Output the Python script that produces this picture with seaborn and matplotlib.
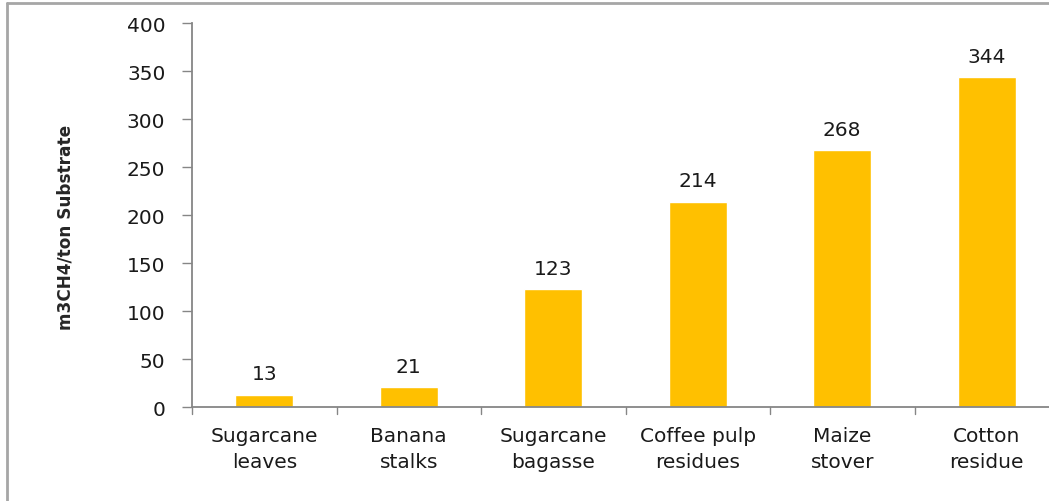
import matplotlib
matplotlib.use("Agg")
import matplotlib.pyplot as plt
from matplotlib.lines import Line2D
import seaborn as sns
import pandas as pd

categories = ["Sugarcane\nleaves", "Banana\nstalks", "Sugarcane\nbagasse",
              "Coffee pulp\nresidues", "Maize\nstover", "Cotton\nresidue"]
values = [13, 21, 123, 214, 268, 344]
y_ticks = [0, 50, 100, 150, 200, 250, 300, 350, 400]
y_label = "m3CH4/ton Substrate"

sns.set_theme(style="white")
plt.rcParams["font.family"] = ["DejaVu Sans"]

df = pd.DataFrame({"substrate": categories, "yield": values})

fig = plt.figure(figsize=(10.49, 5.02), dpi=100)
ax = fig.add_axes([192 / 1049, 1 - 408 / 502, 867 / 1049, 384 / 502])

sns.barplot(data=df, x="substrate", y="yield", color="#FFC000",
            saturation=1, width=0.40, ax=ax)

ax.set_ylim(0, 400)
ax.set_xlim(-0.5, len(categories) - 0.5)
ax.set_yticks(y_ticks)
ax.set_yticklabels([str(t) for t in y_ticks], fontsize=14.5, color="#1a1a1a")
ax.set_xticks(range(len(categories)))
ax.set_xticklabels(categories, fontsize=14.5, color="#1a1a1a", linespacing=1.45)
ax.tick_params(axis="x", length=0, pad=14)
ax.tick_params(axis="y", length=7.2, width=1.0, color="#868686",
               direction="out", left=True, pad=12)

# boundary ticks between categories
for b in [i - 0.5 for i in range(len(categories) + 1)]:
    ax.plot([b, b], [0, -7], color="#868686", lw=1.0,
            transform=ax.transData, clip_on=False)

ax.set_xlabel("")
ax.set_ylabel(y_label, fontsize=12.2, fontweight="bold")
ax.yaxis.set_label_coords(-117 / 867, 0.47)

for side in ["top", "right"]:
    ax.spines[side].set_visible(False)
for side in ["left", "bottom"]:
    ax.spines[side].set_color("#868686")
    ax.spines[side].set_linewidth(1.3)

for i, v in enumerate(values):
    ax.annotate(str(v), (i, v), xytext=(0, 8), textcoords="offset points",
                ha="center", va="bottom", fontsize=14.5, color="#1a1a1a")

# outer frame around the chart area
fig.add_artist(Line2D([7 / 1049, 7 / 1049], [0, 1 - 4 / 502],
                      transform=fig.transFigure, color="#a6a6a6", lw=2))
fig.add_artist(Line2D([7 / 1049, 1], [1 - 4 / 502, 1 - 4 / 502],
                      transform=fig.transFigure, color="#a6a6a6", lw=2))

fig.savefig("out.png", dpi=100)
